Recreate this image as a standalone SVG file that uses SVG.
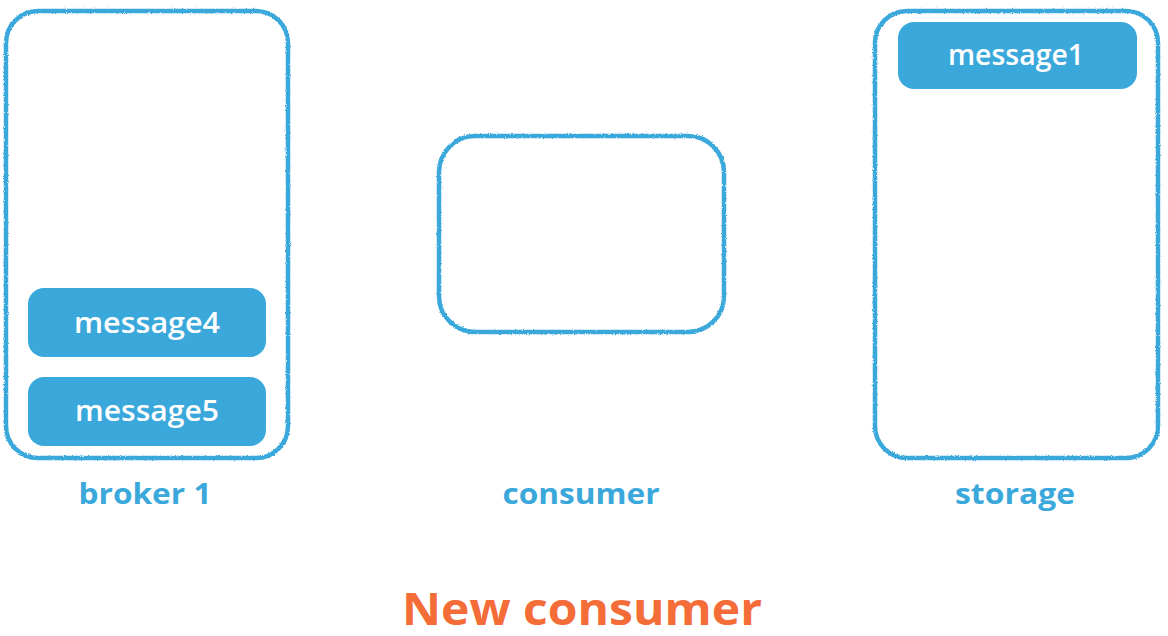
<svg xmlns="http://www.w3.org/2000/svg" width="1168" height="636" viewBox="0 0 1168 636">
<defs>
<filter id="rough" x="-5%" y="-5%" width="110%" height="110%">
<feTurbulence type="fractalNoise" baseFrequency="0.9" numOctaves="2" seed="3" result="n"/>
<feDisplacementMap in="SourceGraphic" in2="n" scale="2.6" xChannelSelector="R" yChannelSelector="G"/>
</filter>
</defs>
<style>
.box{fill:none;stroke:#3ba8dc;stroke-width:4.5;filter:url(#rough)}
.msg{fill:#3ba8dc}
.mt{fill:#ffffff;font-family:"Open Sans",Lato,sans-serif;font-size:28px;font-weight:600;text-anchor:middle}
.lbl{fill:#3ba8dc;font-family:"Open Sans",Lato,sans-serif;font-size:28px;font-weight:700;text-anchor:middle}
.title{fill:#f46c38;font-family:"Open Sans",Lato,sans-serif;font-size:45px;font-weight:700;text-anchor:middle}
</style>
<g id="broker1">
<rect class="box" x="6" y="11" width="282" height="447" rx="32"/>
<rect class="msg" x="28" y="288" width="238" height="69" rx="16"/>
<text class="mt" x="147" y="333" textLength="146" lengthAdjust="spacingAndGlyphs">message4</text>
<rect class="msg" x="28" y="377" width="238" height="69" rx="16"/>
<text class="mt" x="147" y="421" textLength="144" lengthAdjust="spacingAndGlyphs">message5</text>
<text class="lbl" x="145" y="504" textLength="133" lengthAdjust="spacingAndGlyphs">broker 1</text>
</g>
<g id="consumer">
<rect class="box" x="439" y="136" width="285" height="196" rx="36"/>
<text class="lbl" x="581" y="504" textLength="157" lengthAdjust="spacingAndGlyphs">consumer</text>
</g>
<g id="storage">
<rect class="box" x="875" y="11" width="283" height="447" rx="32"/>
<rect class="msg" x="898" y="22" width="239" height="67" rx="16"/>
<text class="mt" x="1016" y="65" textLength="136" lengthAdjust="spacingAndGlyphs">message1</text>
<text class="lbl" x="1015" y="504" textLength="120" lengthAdjust="spacingAndGlyphs">storage</text>
</g>
<g id="connectors"/>
<text class="title" x="582" y="625" textLength="360" lengthAdjust="spacingAndGlyphs">New consumer</text>
</svg>
